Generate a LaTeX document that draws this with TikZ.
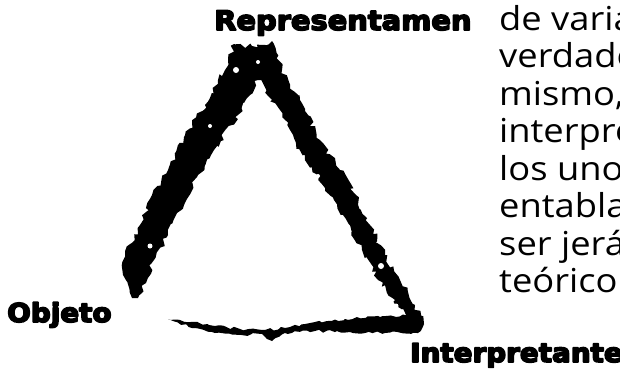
\documentclass[tikz,border=0pt]{standalone}
\usepackage{fontspec}
\setmainfont{Open Sans}
\newfontfamily\bodyfont{Open Sans}[FakeStretch=1.1]
\newfontfamily\labelfont{DejaVu Sans Bold}[FakeStretch=1.07]
\newcommand{\heavy}[1]{\special{pdf:code q 2 Tr 1.6 w 1 j}#1\special{pdf:code Q}}
\usetikzlibrary{decorations.pathmorphing}
\tikzset{vertex/.style = {font=\labelfont\fontsize{26}{30}\selectfont, inner sep=0pt, anchor=base west},
  body/.style = {font=\bodyfont\fontsize{33}{38}\selectfont, inner sep=0pt, anchor=base west},
  ink/.style = {fill=black, decorate, decoration={random steps, segment length=4pt, amplitude=#1}},
  ink/.default = 2.8}

\begin{document}
\begin{tikzpicture}[x=1pt, y=-1pt]
      \pgfmathsetseed{11}
      \useasboundingbox (0,0) rectangle (620,373);
      \coordinate (top) at (252,46);
      \coordinate (left) at (132,298);
      \coordinate (right) at (424,324);
      \fill[ink] (left) -- (123,275) -- (125,255) -- (140,225) -- (152,195) -- (168,170)
        -- (185,135) -- (205,105) -- (218,80) -- (228,60) -- (234,44) -- (top) -- (272,41)
        -- (282,70) -- (300,100) -- (320,140) -- (340,170) -- (356,195) -- (370,225)
        -- (385,255) -- (400,280) -- (415,305) -- (right) -- (410,326) -- (395,300)
        -- (378,280) -- (362,250) -- (343,215) -- (325,188) -- (305,160) -- (290,130)
        -- (272,100) -- (258,80) -- (250,95) -- (232,125) -- (214,150) -- (198,175)
        -- (184,205) -- (168,235) -- (154,260) -- (146,283) -- (138,298) -- cycle;
      \fill[ink=1.5] (168,319) -- (190,322) -- (215,326) -- (240,329) -- (265,330) -- (290,327)
        -- (315,322) -- (345,319) -- (380,317) -- (410,315) -- (right) -- (418,333)
        -- (385,333) -- (350,332) -- (315,331) -- (285,333) -- (272,341) -- (262,334)
        -- (240,335) -- (215,333) -- (192,328) -- cycle;
      \fill[white] (236,70) circle (3) (150,246) circle (2.5) (381,266) circle (3)
        (396,306) circle (2.5) (258,62) circle (2) (318,176) circle (2) (210,126) circle (2);
      \begin{scope}
        \clip (0,0) rectangle (620,373);
        \node[vertex, font=\labelfont\fontsize{27}{30}\selectfont] (rep) at (214,30) {\heavy{Representamen}};
        \node[vertex] (obj) at (7,322) {\heavy{Objeto}};
        \node[vertex] (int) at (410,362) {\heavy{Interpretante}};
        \foreach \txt [count=\i] in {de varia, verdade, {mismo,}, interpre, los uno,
            entabla, ser jerá, teórico}
          \node[body] (l\i) at (499, {30+37.5*(\i-1)}) {\txt};
      \end{scope}
    \end{tikzpicture}
\end{document}
